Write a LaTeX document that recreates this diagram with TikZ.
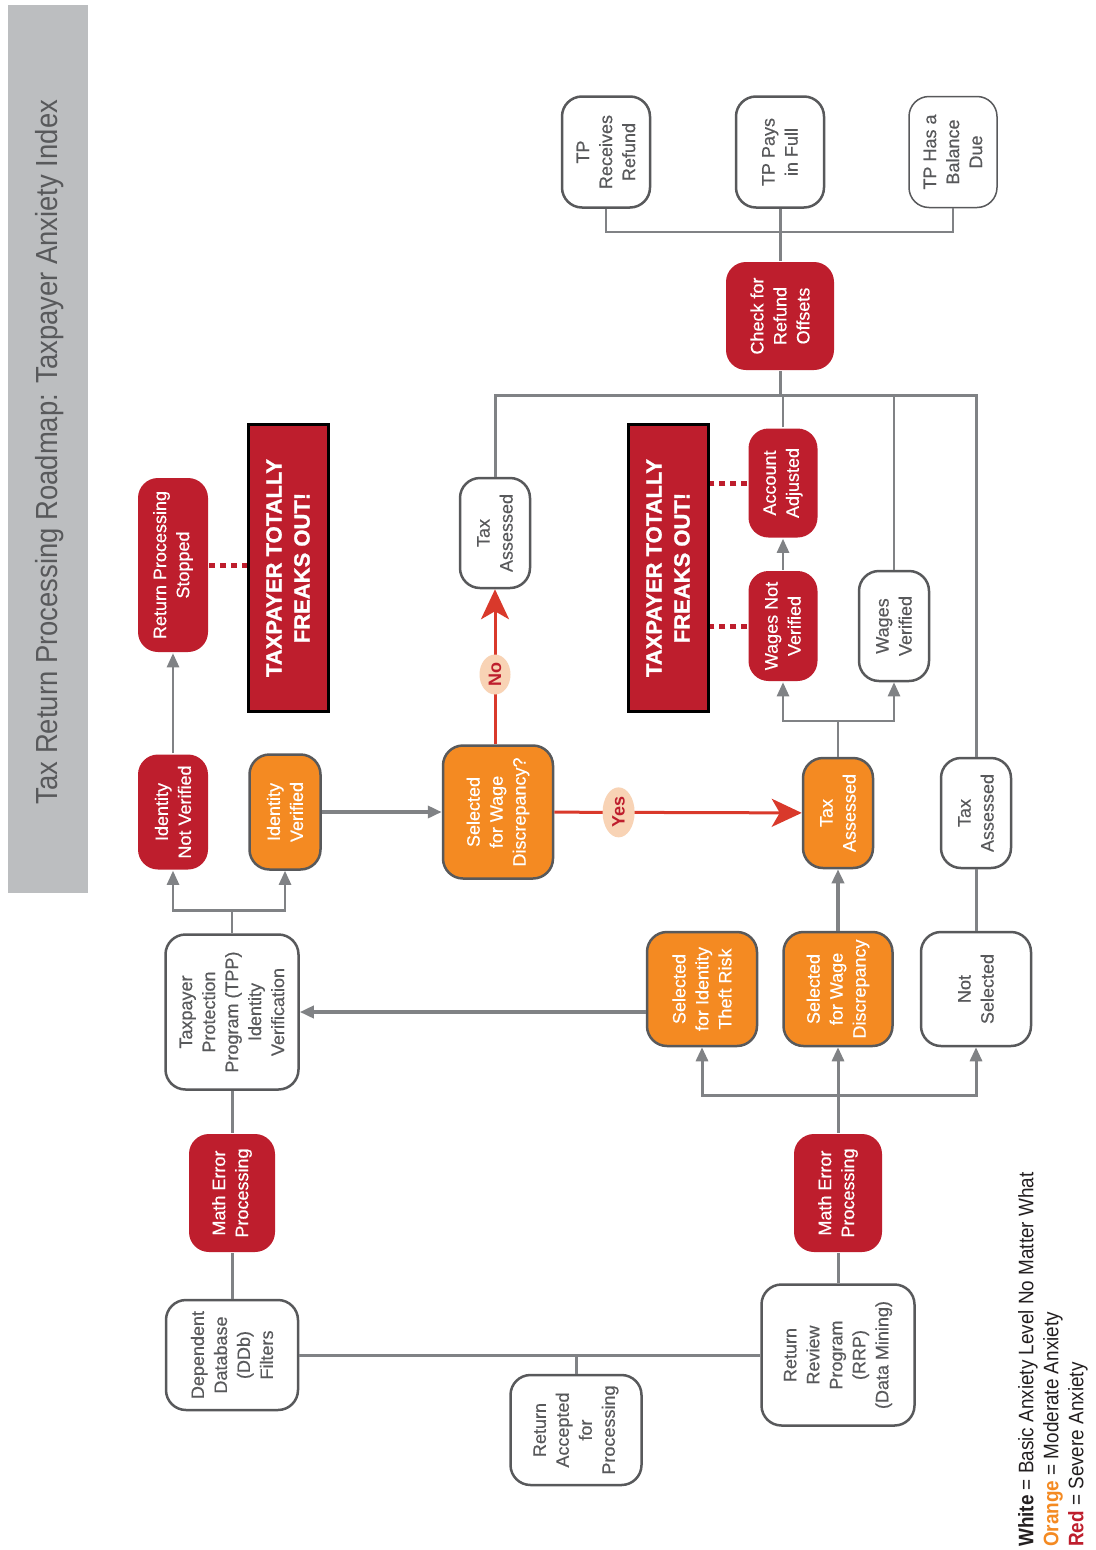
\documentclass[tikz,border=0pt]{standalone}
\usepackage{fontspec}
\setmainfont{Liberation Sans}
\newfontfamily\condfont[FakeStretch=0.9]{Liberation Sans}
\newfontfamily\medfont[FakeBold=0.4]{Liberation Sans}
\newfontfamily\heavyfont[BoldFeatures={FakeBold=1.2}]{Liberation Sans}
\usetikzlibrary{arrows.meta,shapes.geometric}
\definecolor{myred}{HTML}{BE1E2D}
\definecolor{myorange}{HTML}{F48A22}
\definecolor{myborder}{HTML}{58595B}
\definecolor{mygrey}{HTML}{808285}
\definecolor{titlegrey}{HTML}{BCBEC0}
\definecolor{arrowred}{HTML}{D9392B}
\definecolor{labelfill}{HTML}{F8D3B5}
\definecolor{legendtext}{HTML}{231F20}
\begin{document}
\begin{tikzpicture}[x=1pt,y=-1pt,
 box/.style={rotate=90, rounded corners=20pt, inner sep=0pt, align=center, font=\medfont\fontsize{18}{23}\selectfont, line width=2.5pt},
 wbox/.style={box, draw=myborder, fill=white, text=myborder},
 obox/.style={box, draw=myborder, fill=myorange, text=white},
 rbox/.style={box, fill=myred, text=white},
 freak/.style={rotate=90, draw=black, line width=3pt, fill=myred, text=white, inner sep=0pt, align=center, font=\heavyfont\fontsize{22}{28}\selectfont\bfseries},
 gl/.style={draw=mygrey, line width=3pt},
 ga/.style={gl, -{Triangle[length=14pt,width=12pt]}},
 ra/.style={draw=arrowred, line width=3pt, -{Stealth[length=30pt,width=28pt,inset=8pt]}},
 dots/.style={draw=myred, line width=5pt, dash pattern=on 6pt off 5pt},
 lab/.style={ellipse, rotate=90, fill=labelfill, text=myred, inner sep=0pt, font=\fontsize{18}{20}\selectfont\bfseries},
]
\useasboundingbox (0,0) rectangle (1095,1550);
\fill[white] (0,0) rectangle (1095,1550);

% title bar
\fill[titlegrey] (8,5) rectangle (88,893);
\node[rotate=90, text=myborder, inner sep=0pt, font=\condfont\fontsize{30.5}{32}\selectfont] (title) at (50,452) {Tax Return Processing Roadmap: Taxpayer Anxiety Index};

% nodes
\node[wbox, minimum width=110pt, minimum height=132pt] (ddb) at (232,1355) {Dependent\\Database\\(DDb)\\Filters};
\node[rbox, minimum width=118pt, minimum height=86pt] (me1) at (232,1193) {Math Error\\Processing};
\node[wbox, minimum width=155pt, minimum height=133pt] (tpp) at (232,1012) {Taxpayer\\Protection\\Program (TPP)\\Identity\\Verification};
\node[rbox, minimum width=115pt, minimum height=70pt] (inv) at (173,812) {Identity\\Not Verified};
\node[obox, minimum width=115pt, minimum height=71pt] (iv) at (285,812) {Identity\\Verified};
\node[rbox, minimum width=174pt, minimum height=70pt] (rps) at (173,565) {Return Processing\\Stopped};
\node[freak, minimum width=287pt, minimum height=80pt] (fo1) at (288,568) {TAXPAYER TOTALLY\\FREAKS OUT!};
\node[obox, minimum width=133pt, minimum height=110pt] (swd) at (498,812) {Selected\\for Wage\\Discrepancy?};
\node[wbox, minimum width=110pt, minimum height=70pt] (ta1) at (495,533) {Tax\\Assessed};
\node[freak, minimum width=287pt, minimum height=80pt] (fo2) at (668,568) {TAXPAYER TOTALLY\\FREAKS OUT!};
\node[rbox, minimum width=110pt, minimum height=69pt] (wnv) at (783,626) {Wages Not\\Verified};
\node[rbox, minimum width=109pt, minimum height=69pt] (aa) at (783,483) {Account\\Adjusted};
\node[wbox, minimum width=110pt, minimum height=70pt] (wv) at (894,626) {Wages\\Verified};
\node[obox, minimum width=110pt, minimum height=70pt] (ta2) at (838,813) {Tax\\Assessed};
\node[wbox, minimum width=110pt, minimum height=70pt] (ta3) at (976,813) {Tax\\Assessed};
\node[obox, minimum width=114pt, minimum height=110pt] (sit) at (702,989) {Selected\\for Identity\\Theft Risk};
\node[obox, minimum width=114pt, minimum height=109pt] (swd2) at (838,989) {Selected\\for Wage\\Discrepancy};
\node[wbox, minimum width=114pt, minimum height=110pt] (ns) at (976,989) {Not\\Selected};
\node[rbox, minimum width=118pt, minimum height=88pt] (me2) at (838,1193) {Math Error\\Processing};
\node[wbox, minimum width=141pt, minimum height=153pt] (rrp) at (838,1355) {Return\\Review\\Program\\(RRP)\\(Data Mining)};
\node[wbox, minimum width=110pt, minimum height=131pt] (rap) at (576,1430) {Return\\Accepted\\for\\Processing};
\node[rbox, minimum width=108pt, minimum height=108pt] (cro) at (780,316) {Check for\\Refund\\Offsets};
\node[wbox, minimum width=111pt, minimum height=88pt] (trr) at (606,152) {TP\\Receives\\Refund};
\node[wbox, minimum width=111pt, minimum height=88pt] (tpf) at (780,152) {TP Pays\\in Full};
\node[wbox, minimum width=111pt, minimum height=88pt, line width=1.5pt] (tbd) at (953,152) {TP Has a\\Balance\\Due};

% helper coordinates
\coordinate (bus) at (780,395);
\coordinate (b5) at (780,232);

% connectors, left column
\draw[gl] (ddb) -- (rrp);
\draw[gl] (rap.east) -- (rap.east |- ddb);
\draw[gl] (ddb) -- (me1);
\draw[gl] (me1) -- (tpp);
\draw[gl, line width=2.5pt] (tpp.east) -- ++(0,-23) coordinate (b1);
\draw[ga, line width=2.5pt] (b1) -| (inv);
\draw[ga, line width=2.5pt] (b1) -| (iv);
\draw[ga, line width=2.5pt] (inv) -- (rps);
\draw[dots] (rps.south) -- (rps.south -| fo1.north);
\draw[ga, line width=3.5pt] (iv) -- (swd);

% red decisions
\draw[ra] (ta1 |- swd.east) -- (ta1.west) node[lab, pos=0.45, minimum width=40pt, minimum height=31pt] (no) {No};
\draw[ra] (swd) -- (ta2) node[lab, pos=0.26, minimum width=50pt, minimum height=32pt] (yes) {Yes};

% right part
\draw[gl, line width=2.5pt] (ta2.east) -- ++(0,-36) coordinate (b3);
\draw[ga, line width=2.5pt] (b3) -| (wnv);
\draw[ga, line width=2.5pt] (b3) -| (wv);
\draw[ga, line width=2.5pt] (wnv) -- (aa);
\draw[dots] (wnv.north) -- (wnv.north -| fo2.south);
\draw[dots] (aa.north) -- (aa.north -| fo2.south);
\draw[gl] (ta1.east) |- (bus) -| (ta3.east);
\draw[gl, line width=2.5pt] (aa.east) -- (aa.east |- bus);
\draw[gl, line width=2.5pt] (wv.east) -- (wv.east |- bus);
\draw[gl] (cro) -- (bus);
\draw[gl] (ns) -- (ta3);
\draw[ga, line width=3.5pt] (swd2) -- (ta2);
\draw[ga, line width=3.5pt] (sit.north |- tpp) -- (tpp.south);

% bottom right
\draw[gl] (rrp) -- (me2);
\draw[gl] (me2.east) -- ++(0,-37) coordinate (b4);
\draw[ga] (b4) -| (sit);
\draw[ga] (b4) -- (swd2);
\draw[ga] (b4) -| (ns);

% top right
\draw[gl] (cro) -- (tpf);
\draw[gl, line width=2.5pt] (trr.west) |- (b5) -| (tbd.west);

% legend
\node[rotate=90, anchor=west, align=left, inner sep=0pt, text=legendtext, font=\condfont\fontsize{21}{25}\selectfont] (legend) at (1053,1547) {\textbf{White} = Basic Anxiety Level No Matter What\\{\color{myorange}\textbf{Orange}} = Moderate Anxiety\\{\color{myred}\textbf{Red}} = Severe Anxiety};
\end{tikzpicture}
\end{document}
